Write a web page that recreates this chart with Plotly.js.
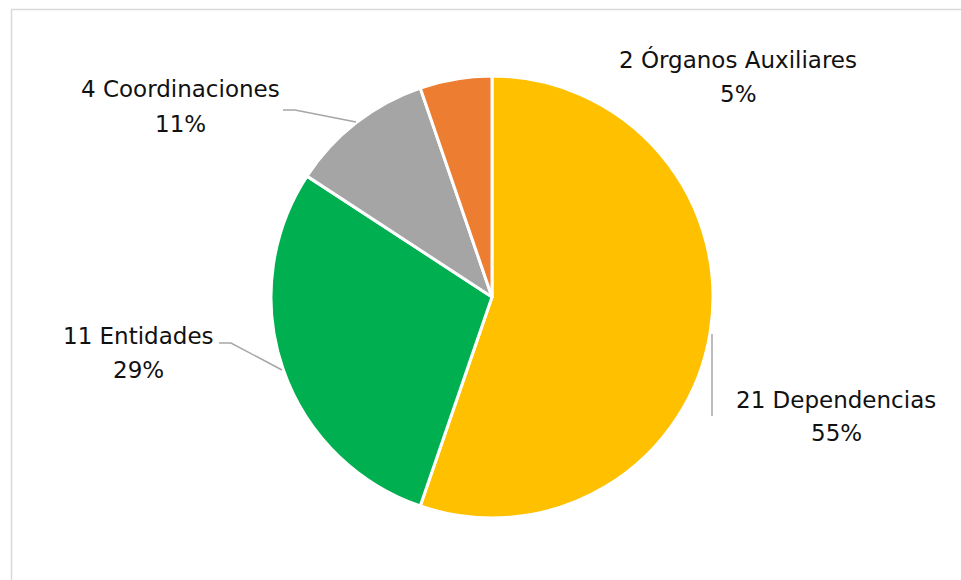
<!DOCTYPE html>
<html>
<head>
<meta charset="utf-8">
<script src="https://cdn.plot.ly/plotly-3.0.1.min.js"></script>
<style>html,body{margin:0;padding:0;background:#fff;}#chart{width:961px;height:580px;}</style>
</head>
<body>
<div id="chart"></div>
<script>
const categories = ["Dependencias", "Entidades", "Coordinaciones", "Órganos Auxiliares"];
const counts = [21, 11, 4, 2];
const colors = ["#FFC000", "#00B050", "#A5A5A5", "#ED7D31"];

const W = 961, H = 580;
const px = x => x / W;
const py = y => 1 - y / H;

const total = counts.reduce((a, b) => a + b, 0);
const pct = counts.map(v => Math.round(v / total * 100) + "%");

// label anchor positions (pixels): [x center, y line1, y line2]
const labelPos = [
  [836, 400, 433],
  [138, 336, 370],
  [180, 89, 124],
  [738, 60, 94]
];
const labelFont = {family: "'DejaVu Sans', sans-serif", size: 23, color: "#111"};

const annotations = [];
categories.forEach((c, i) => {
  const [cx, y1, y2] = labelPos[i];
  annotations.push({xref: "paper", yref: "paper", x: px(cx), y: py(y1), text: counts[i] + " " + c,
    showarrow: false, xanchor: "center", yanchor: "middle", font: labelFont});
  annotations.push({xref: "paper", yref: "paper", x: px(cx), y: py(y2), text: pct[i],
    showarrow: false, xanchor: "center", yanchor: "middle", font: labelFont});
});

const lineStyle = {color: "#A6A6A6", width: 1.5};
const shapes = [
  {type: "rect", xref: "paper", yref: "paper", x0: px(11.5), x1: 1.02, y0: py(9.5), y1: -0.02,
   line: {color: "#D9D9D9", width: 1.5}, fillcolor: "rgba(0,0,0,0)"},
  {type: "path", xref: "paper", yref: "paper",
   path: `M ${px(283)} ${py(110)} L ${px(295)} ${py(110)} L ${px(356)} ${py(122)}`, line: lineStyle},
  {type: "path", xref: "paper", yref: "paper",
   path: `M ${px(219)} ${py(343)} L ${px(231)} ${py(343)} L ${px(282)} ${py(370)}`, line: lineStyle},
  {type: "path", xref: "paper", yref: "paper",
   path: `M ${px(712)} ${py(334)} L ${px(712)} ${py(416)}`, line: lineStyle}
];

const cx = 492, cy = 297, r = 221;
Plotly.newPlot("chart", [{
  type: "pie",
  labels: categories,
  values: counts,
  sort: false,
  direction: "clockwise",
  rotation: 0,
  textinfo: "none",
  hoverinfo: "label+value+percent",
  marker: {colors: colors, line: {color: "#FFFFFF", width: 3}},
  domain: {x: [px(cx - r), px(cx + r)], y: [py(cy + r), py(cy - r)]},
  automargin: false
}], {
  width: W, height: H,
  margin: {l: 0, r: 0, t: 0, b: 0},
  showlegend: false,
  paper_bgcolor: "#FFFFFF",
  annotations: annotations,
  shapes: shapes
}, {displayModeBar: false, staticPlot: true});
</script>
</body>
</html>
